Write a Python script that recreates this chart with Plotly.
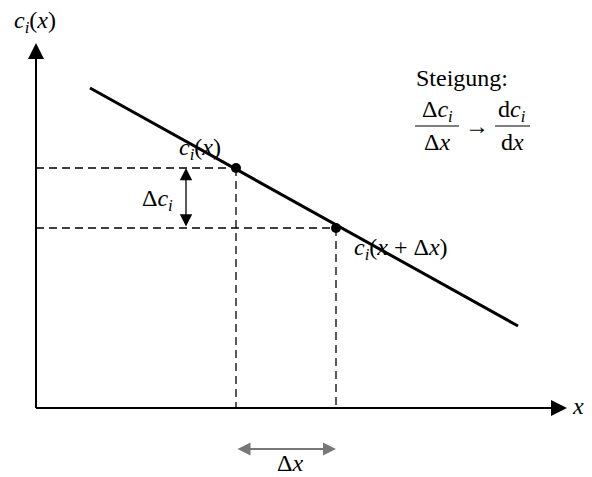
import plotly.graph_objects as go

# --- data (units: arbitrary, origin at axis crossing) ---
line_x = [1.08, 9.64]
line_y = [6.40, 1.64]
point_x = [4.0, 6.0]
point_y = [4.8, 3.6]
x_axis_end = 10.62
y_axis_end = 7.30
dc_arrow_x = 3.0
dx_arrow_y = -0.82

FONT = "Liberation Serif,serif"
FS = 24

fig = go.Figure()

# main line
fig.add_trace(go.Scatter(x=line_x, y=line_y, mode="lines",
                         line=dict(color="black", width=3), hoverinfo="skip"))

# dashed guide lines
dash = dict(color="black", width=1.3, dash="8px,5px")
for px_, py_ in zip(point_x, point_y):
    fig.add_trace(go.Scatter(x=[0, px_], y=[py_, py_], mode="lines", line=dash, hoverinfo="skip"))
    fig.add_trace(go.Scatter(x=[px_, px_], y=[py_, 0], mode="lines", line=dash, hoverinfo="skip"))

# points
fig.add_trace(go.Scatter(x=point_x, y=point_y, mode="markers",
                         marker=dict(color="black", size=10), hoverinfo="skip"))

# axes with arrows
fig.add_trace(go.Scatter(x=[0, x_axis_end - 0.1], y=[0, 0], mode="lines",
                         line=dict(color="black", width=2), hoverinfo="skip"))
fig.add_trace(go.Scatter(x=[0, 0], y=[0, y_axis_end - 0.1], mode="lines",
                         line=dict(color="black", width=2), hoverinfo="skip"))

ann = []
def arrow(x0, y0, x1, y1, color="black", width=2, both=False, size=1.3):
    ann.append(dict(x=x1, y=y1, ax=x0, ay=y0, xref="x", yref="y", axref="x", ayref="y",
                    text="", showarrow=True, arrowhead=2, arrowsize=size, arrowwidth=width,
                    arrowcolor=color, arrowside="end+start" if both else "end",
                    standoff=0, startstandoff=0))

arrow(x_axis_end - 0.5, 0, x_axis_end, 0, size=1.6)
arrow(0, y_axis_end - 0.5, 0, y_axis_end, size=1.6)
arrow(dc_arrow_x, point_y[1], dc_arrow_x, point_y[0], width=1.3, both=True, size=1.9)
arrow(point_x[0], dx_arrow_y, point_x[1], dx_arrow_y, color="#777", width=2, both=True, size=1.3)

# helper: window pixel -> data position (for text placement)
def fx(p):
    return (p - 36) / 50
def fy(p):
    return (408 - p) / 50

def text(t, xp, yp, xanchor="center", yanchor="middle", size=FS, family=FONT):
    ann.append(dict(x=fx(xp), y=fy(yp), xref="x", yref="y", text=t, showarrow=False,
                    xanchor=xanchor, yanchor=yanchor,
                    font=dict(family=family, size=size, color="black")))

ci = "<i>c</i><sub><i>i</i></sub>"
text(ci + "(<i>x</i>)", 35, 22)
text("<i>x</i>", 578, 406)
text(ci + "(<i>x</i>)", 200, 149)
text(ci + "(<i>x</i> + Δ<i>x</i>)", 401, 249)
text("Δ" + ci, 157, 200)
text("Δ<i>x</i>", 290, 463)
text("Steigung:", 462, 78)
text("Δ" + ci, 437, 111)
text("Δ<i>x</i>", 437, 142)
text("→", 477, 126)
text("d" + ci, 512, 111)
text("d<i>x</i>", 512, 142)

shapes = [
    dict(type="line", x0=fx(415), x1=fx(459), y0=fy(126), y1=fy(126), xref="x", yref="y",
         line=dict(color="black", width=1.2)),
    dict(type="line", x0=fx(495), x1=fx(530), y0=fy(126), y1=fy(126), xref="x", yref="y",
         line=dict(color="black", width=1.2)),
]

fig.update_layout(
    width=584, height=469, margin=dict(l=0, r=0, t=0, b=0),
    plot_bgcolor="white", paper_bgcolor="white", showlegend=False,
    font=dict(family=FONT, size=FS, color="black"),
    xaxis=dict(range=[fx(8), fx(592)], visible=False, fixedrange=True),
    yaxis=dict(range=[fy(477), fy(8)], visible=False, fixedrange=True),
    annotations=ann, shapes=shapes,
)

fig.write_html("out.html")
